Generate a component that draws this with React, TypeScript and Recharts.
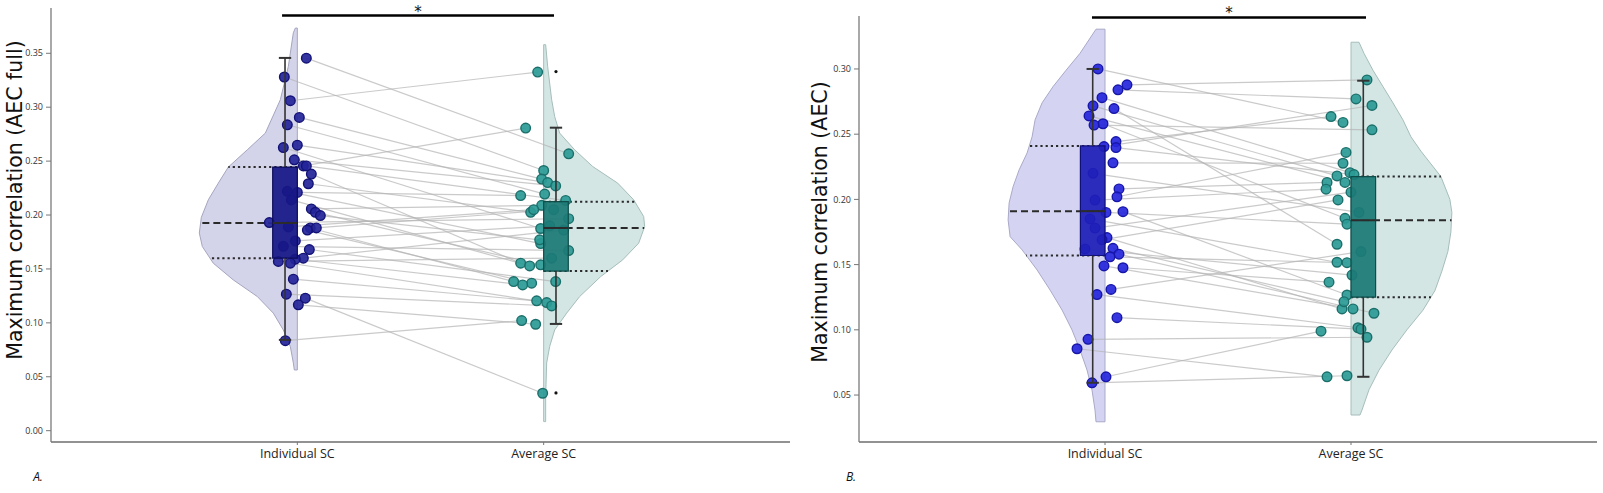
import React from 'react';
import { ComposedChart, XAxis, YAxis, Scatter } from 'recharts';

// ---------- data ----------
const CATEGORIES = ['Individual SC', 'Average SC'];
const Y_TICKS_A = [0, 0.05, 0.1, 0.15, 0.2, 0.25, 0.3, 0.35];
const Y_TICKS_B = [0.05, 0.1, 0.15, 0.2, 0.25, 0.3];

// Panel A: paired subjects (AEC full)
const A_INDIVIDUAL = [0.3455, 0.328, 0.306, 0.2905, 0.2837, 0.2648, 0.2626, 0.2512, 0.2455, 0.2455, 0.238, 0.229, 0.222, 0.221, 0.214, 0.2057, 0.2025, 0.1995, 0.193, 0.189, 0.188, 0.188, 0.186, 0.176, 0.171, 0.168, 0.16, 0.159, 0.157, 0.1553, 0.1405, 0.1266, 0.1229, 0.1167, 0.0835];
const A_AVERAGE = [0.2568, 0.2413, 0.3326, 0.2333, 0.2194, 0.2301, 0.1875, 0.227, 0.2806, 0.2135, 0.1553, 0.2025, 0.1735, 0.218, 0.1528, 0.209, 0.1538, 0.177, 0.1966, 0.205, 0.1383, 0.205, 0.1368, 0.19, 0.167, 0.1383, 0.186, 0.1352, 0.16, 0.1188, 0.1204, 0.1157, 0.0347, 0.0987, 0.1021];
const A_INDIVIDUAL_JITTER = [9, -13, -7, 2, -10, 0, -14, -3, 6, 9, 14, 11, -10, 0, -6, 14, 18, 23, -28, -9, 13, 19, 10, -2, -14, 12, 6, -2, -19, -7, -4, -11, 8, 1, -12];
const A_AVERAGE_JITTER = [25, 0, -6, -2, 1, 4, -3, 12, -18, 22, -23, -13, -3, -23, -14, -2, -3, -4, 25, -10, -30, 10, -12, 6, 25, 12, 20, -21, 8, 3, -7, 8, -1, -8, -22];

// Panel B: paired subjects (AEC)
const B_INDIVIDUAL = [0.3, 0.2878, 0.284, 0.278, 0.2717, 0.2696, 0.264, 0.258, 0.257, 0.2443, 0.2405, 0.2397, 0.228, 0.22, 0.208, 0.202, 0.1995, 0.1906, 0.19, 0.185, 0.178, 0.1707, 0.169, 0.1625, 0.162, 0.158, 0.156, 0.149, 0.1476, 0.131, 0.127, 0.1093, 0.0927, 0.0855, 0.064, 0.0594];
const B_AVERAGE = [0.259, 0.2916, 0.277, 0.2205, 0.218, 0.1656, 0.213, 0.1855, 0.2533, 0.2635, 0.272, 0.219, 0.2277, 0.19, 0.213, 0.236, 0.2078, 0.1267, 0.181, 0.1518, 0.2055, 0.116, 0.1996, 0.1216, 0.142, 0.1127, 0.1515, 0.116, 0.1365, 0.16, 0.1016, 0.1005, 0.0943, 0.064, 0.099, 0.0648];
const B_INDIVIDUAL_JITTER = [-7, 22, 13, -3, -12, 9, -16, -2, -11, 11, -1, 11, 8, -12, 14, 12, -10, 18, 1, -15, -10, 2, -3, 8, -20, 14, 5, -1, 18, 6, -8, 12, -17, -28, 1, -13];
const B_AVERAGE_JITTER = [-8, 16, 5, -1, -14, -14, -6, -6, 21, -20, 21, 3, -8, 8, -24, -5, -25, -4, -4, -14, 0, -9, -13, -7, 1, 23, -4, 2, -22, 10, 7, 10, 16, -24, -30, -4];

// Box statistics: [lower whisker, Q1, median, Q3, upper whisker]
const A_INDIVIDUAL_BOX = [0.0842, 0.16, 0.1926, 0.2445, 0.3457];
const A_AVERAGE_BOX = [0.099, 0.148, 0.188, 0.2124, 0.281];
const A_AVERAGE_FLIERS = [0.333, 0.035];
const B_INDIVIDUAL_BOX = [0.0594, 0.157, 0.191, 0.241, 0.3];
const B_AVERAGE_BOX = [0.064, 0.125, 0.184, 0.2175, 0.291];
const B_AVERAGE_FLIERS: number[] = [];

// Kernel density profiles (value, relative density)
const A_INDIVIDUAL_KDE_Y = [0.3734, 0.369, 0.3378, 0.3069, 0.276, 0.2605, 0.2445, 0.2296, 0.2141, 0.1978, 0.1833, 0.1708, 0.1553, 0.1398, 0.1244, 0.109, 0.0934, 0.078, 0.0628, 0.0563];
const A_INDIVIDUAL_KDE_D = [2, 4, 9, 17, 32, 50, 69, 79, 89, 96, 98, 95, 84, 64, 40, 24, 14, 7, 4, 3];
const A_AVERAGE_KDE_Y = [0.358, 0.3378, 0.3069, 0.2914, 0.276, 0.2605, 0.245, 0.2296, 0.2141, 0.1986, 0.1893, 0.1739, 0.1584, 0.1429, 0.1244, 0.109, 0.0934, 0.078, 0.0628, 0.0316, 0.0084];
const A_AVERAGE_KDE_D = [2, 4, 8, 11, 16, 31, 49, 74, 90, 100, 101, 95, 79, 57, 36, 23, 11, 6, 3, 2, 2];
const B_INDIVIDUAL_KDE_Y = [0.3305, 0.312, 0.299, 0.2865, 0.274, 0.261, 0.248, 0.2356, 0.2226, 0.2098, 0.1973, 0.1842, 0.1714, 0.1613, 0.1459, 0.1305, 0.1152, 0.0999, 0.0845, 0.0692, 0.0538, 0.0385, 0.0295];
const B_INDIVIDUAL_KDE_D = [9, 25, 39, 52, 63, 70, 73, 78, 86, 92, 96, 97, 95, 83, 68, 55, 43, 33, 25, 18, 13, 10, 9];
const B_AVERAGE_KDE_Y = [0.3205, 0.312, 0.299, 0.2865, 0.274, 0.261, 0.248, 0.237, 0.2175, 0.2, 0.19, 0.175, 0.16, 0.145, 0.13, 0.115, 0.1, 0.0845, 0.069, 0.054, 0.0385, 0.0347];
const B_AVERAGE_KDE_D = [8, 13, 22, 32, 42, 52, 60, 70, 90, 99, 101, 100, 97, 91, 84, 72, 56, 41, 28, 18, 11, 9];

// ---------- geometry (category units) ----------
const UNIT = 0.00406; // one jitter / density step in category units
const BOX_W = 0.1;
const CAP_HALF = 0.025;

const noShape = () => <g />;

const polygonLine = (fill: string, stroke: string, sw: number, fillOpacity = 1) => (p: any) => {
  const pts = p.points || [];
  if (!pts.length) return <g />;
  const d = pts.map((q: any, i: number) => `${i ? 'L' : 'M'}${q.x},${q.y}`).join(' ') + ' Z';
  return <path d={d} fill={fill} fillOpacity={fillOpacity} stroke={stroke} strokeWidth={sw} />;
};

function widthAt(ys: number[], ds: number[], v: number) {
  for (let i = 0; i < ys.length - 1; i++) {
    const a = ys[i], b = ys[i + 1];
    if (v <= a && v >= b) {
      const t = (a - v) / (a - b);
      return ds[i] + t * (ds[i + 1] - ds[i]);
    }
  }
  return 0;
}

type Group = {
  cat: number; side: number; values: number[]; jitter: number[];
  kdeY: number[]; kdeD: number[]; box: number[]; fliers: number[];
  violinFill: string; violinStroke: string; boxFill: string; boxStroke: string;
  pointFill: string; pointStroke: string;
};

function segment(key: string, pts: { x: number; y: number }[], stroke: string, sw: number, dash?: string, opacity = 1) {
  return (
    <Scatter key={key} data={pts} line={{ stroke, strokeWidth: sw, strokeDasharray: dash, strokeOpacity: opacity }} lineType="joint"
      shape={noShape} isAnimationActive={false} />
  );
}

function groupBack(g: Group, id: string) {
  const poly = [{ x: g.cat, y: g.kdeY[0] }];
  g.kdeY.forEach((y, i) => poly.push({ x: g.cat + g.side * g.kdeD[i] * UNIT, y }));
  poly.push({ x: g.cat, y: g.kdeY[g.kdeY.length - 1] });
  const els = [
    <Scatter key={id + 'violin'} data={poly} line={polygonLine(g.violinFill, g.violinStroke, 1)} lineType="joint"
      shape={noShape} isAnimationActive={false} />,
  ];
  const q = [g.box[1], g.box[2], g.box[3]];
  q.forEach((v, i) => {
    const w = widthAt(g.kdeY, g.kdeD, v) * UNIT;
    els.push(segment(id + 'q' + i, [{ x: g.cat, y: v }, { x: g.cat + g.side * w, y: v }], '#2a2a2a', 2,
      i === 1 ? '7 4' : '2.2 3'));
  });
  return els;
}

function groupFront(g: Group, id: string) {
  const [lo, q1, med, q3, hi] = g.box;
  const bx = g.cat + g.side * BOX_W;
  const wx = g.cat + g.side * BOX_W / 2;
  const els = [
    <Scatter key={id + 'box'} data={[{ x: g.cat, y: q1 }, { x: bx, y: q1 }, { x: bx, y: q3 }, { x: g.cat, y: q3 }]}
      line={polygonLine(g.boxFill, g.boxStroke, 1.2, 0.93)} lineType="joint" shape={noShape} isAnimationActive={false} />,
    segment(id + 'med', [{ x: g.cat, y: med }, { x: bx, y: med }], '#2b2b2b', 2),
    segment(id + 'wu', [{ x: wx, y: q3 }, { x: wx, y: hi }], '#333', 1.6),
    segment(id + 'wl', [{ x: wx, y: q1 }, { x: wx, y: lo }], '#333', 1.6),
    segment(id + 'cu', [{ x: wx - CAP_HALF, y: hi }, { x: wx + CAP_HALF, y: hi }], '#333', 2),
    segment(id + 'cl', [{ x: wx - CAP_HALF, y: lo }, { x: wx + CAP_HALF, y: lo }], '#333', 2),
  ];
  if (g.fliers.length) {
    els.push(
      <Scatter key={id + 'fl'} data={g.fliers.map((v) => ({ x: wx, y: v }))} isAnimationActive={false}
        shape={(p: any) => <circle cx={p.cx} cy={p.cy} r={1.6} fill="#111" />} />
    );
  }
  return els;
}

function pointsOf(g: Group, id: string) {
  const data = g.values.map((v, i) => ({ x: g.cat + g.jitter[i] * UNIT, y: v }));
  return (
    <Scatter key={id + 'pts'} data={data} isAnimationActive={false}
      shape={(p: any) => (
        <circle cx={p.cx} cy={p.cy} r={4.8} fill={g.pointFill} fillOpacity={0.92} stroke={g.pointStroke} strokeWidth={1.4} />
      )} />
  );
}

type PanelProps = {
  width: number; height: number; margin: any; yAxisWidth: number;
  yDomain: number[]; yTicks: number[]; ind: Group; avg: Group; sig: number[];
};

function Panel({ width, height, margin, yAxisWidth, yDomain, yTicks, ind, avg, sig }: PanelProps) {
  const pairs = ind.values.map((v, i) =>
    segment('pair' + i, [
      { x: ind.cat + ind.jitter[i] * UNIT, y: v },
      { x: avg.cat + avg.jitter[i] * UNIT, y: avg.values[i] },
    ], '#b4b4b4', 1.2, undefined, 0.7)
  );
  const [sx1, sx2, sy] = sig;
  return (
    <ComposedChart width={width} height={height} margin={margin}>
      <XAxis type="number" dataKey="x" domain={[0, 3]} ticks={[1, 2]}
        tickFormatter={(v: number) => CATEGORIES[v - 1]} height={30} tickSize={3} tickMargin={4}
        axisLine={{ stroke: '#6e6e6e', strokeWidth: 1.6 }} tickLine={{ stroke: '#777' }}
        tick={{ fontSize: 12.5, fill: '#222', fontFamily: 'Open Sans' }} />
      <YAxis type="number" dataKey="y" domain={yDomain} ticks={yTicks} width={yAxisWidth}
        tickFormatter={(v: number) => v.toFixed(2)} tickSize={5} tickMargin={3}
        axisLine={{ stroke: '#7a7a7a', strokeWidth: 1.3 }} tickLine={{ stroke: '#777' }}
        tick={{ fontSize: 9, fill: '#333', fontFamily: 'Open Sans' }} />
      {groupBack(ind, 'i')}
      {groupBack(avg, 'a')}
      {pairs}
      {pointsOf(ind, 'i')}
      {pointsOf(avg, 'a')}
      {groupFront(ind, 'i')}
      {groupFront(avg, 'a')}
      {segment('sig', [{ x: sx1, y: sy }, { x: sx2, y: sy }], '#000', 2.6)}
      <Scatter key="star" data={[{ x: (sx1 + sx2) / 2, y: sy }]} isAnimationActive={false}
        shape={(p: any) => (
          <text x={p.cx} y={p.cy + 1} textAnchor="middle" fontSize={15} fontFamily="DejaVu Sans" fill="#111">*</text>
        )} />
    </ComposedChart>
  );
}

const teal = {
  violinFill: '#d3e6e4', violinStroke: '#a6bebb', boxFill: '#1c7a76', boxStroke: '#0f4d4a',
  pointFill: '#2b9a95', pointStroke: '#1b6f6b',
};

const A_IND_GROUP: Group = {
  cat: 1, side: -1, values: A_INDIVIDUAL, jitter: A_INDIVIDUAL_JITTER, kdeY: A_INDIVIDUAL_KDE_Y, kdeD: A_INDIVIDUAL_KDE_D,
  box: A_INDIVIDUAL_BOX, fliers: [], violinFill: '#d3d3ea', violinStroke: '#a5a5bf', boxFill: '#171787',
  boxStroke: '#0c0c5a', pointFill: '#24249a', pointStroke: '#121276',
};
const A_AVG_GROUP: Group = {
  cat: 2, side: 1, values: A_AVERAGE, jitter: A_AVERAGE_JITTER, kdeY: A_AVERAGE_KDE_Y, kdeD: A_AVERAGE_KDE_D,
  box: A_AVERAGE_BOX, fliers: A_AVERAGE_FLIERS, ...teal,
};
const B_IND_GROUP: Group = {
  cat: 1, side: -1, values: B_INDIVIDUAL, jitter: B_INDIVIDUAL_JITTER, kdeY: B_INDIVIDUAL_KDE_Y, kdeD: B_INDIVIDUAL_KDE_D,
  box: B_INDIVIDUAL_BOX, fliers: [], violinFill: '#d4d4f2', violinStroke: '#a9a9c9', boxFill: '#1f1fb8',
  boxStroke: '#10107a', pointFill: '#2626dc', pointStroke: '#1616a8',
};
const B_AVG_GROUP: Group = {
  cat: 2, side: 1, values: B_AVERAGE, jitter: B_AVERAGE_JITTER, kdeY: B_AVERAGE_KDE_Y, kdeD: B_AVERAGE_KDE_D,
  box: B_AVERAGE_BOX, fliers: B_AVERAGE_FLIERS, ...teal,
};

const yLabelStyle = (x: number, y: number): React.CSSProperties => ({
  position: 'absolute', left: x, top: y, transform: 'translate(-50%, -50%) rotate(-90deg)',
  whiteSpace: 'nowrap', fontFamily: 'DejaVu Sans', fontSize: 20.5, color: '#111', lineHeight: 1,
});
const panelTag = (x: number, y: number): React.CSSProperties => ({
  position: 'absolute', left: x, top: y, transform: 'translate(-50%, -50%)', fontFamily: 'Open Sans',
  fontStyle: 'italic', fontSize: 12, color: '#111',
});

export default function App() {
  return (
    <div style={{ position: 'absolute', left: 0, top: 0, width: 1603, height: 493, background: '#fff', overflow: 'hidden' }}>
      <div style={{ position: 'absolute', left: 0, top: 0 }}>
        <Panel width={800} height={493} margin={{ top: 8, right: 10, bottom: 21, left: 0 }} yAxisWidth={51}
          yDomain={[-0.0105, 0.392]} yTicks={Y_TICKS_A} ind={A_IND_GROUP} avg={A_AVG_GROUP} sig={[0.938, 2.042, 0.385]} />
      </div>
      <div style={{ position: 'absolute', left: 800, top: 0 }}>
        <Panel width={803} height={493} margin={{ top: 16, right: 6, bottom: 21, left: 0 }} yAxisWidth={59}
          yDomain={[0.014, 0.3406]} yTicks={Y_TICKS_B} ind={B_IND_GROUP} avg={B_AVG_GROUP} sig={[0.947, 2.061, 0.3395]} />
      </div>
      <div style={yLabelStyle(15, 200)}>Maximum correlation (AEC full)</div>
      <div style={yLabelStyle(820, 222)}>Maximum correlation (AEC)</div>
      <div style={panelTag(38, 476)}>A.</div>
      <div style={panelTag(851, 476)}>B.</div>
    </div>
  );
}
